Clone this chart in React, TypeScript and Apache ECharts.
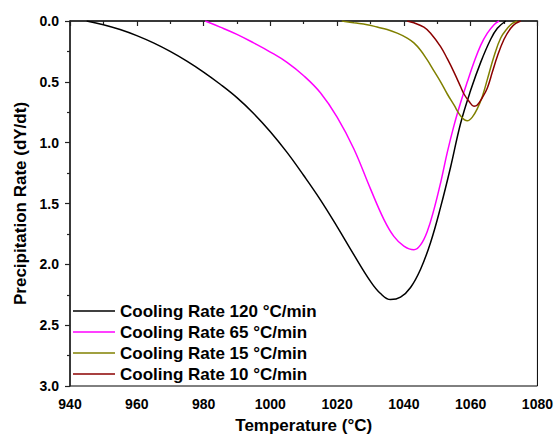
import React, { useEffect, useRef } from "react";
import * as echarts from "echarts";

const seriesNames = [
  "Cooling Rate 120 °C/min",
  "Cooling Rate 65 °C/min",
  "Cooling Rate 15 °C/min",
  "Cooling Rate 10 °C/min",
];
const seriesColors = ["#000000", "#ff00ff", "#808000", "#8b0000"];

const temp120 = [945, 950, 955, 960, 965, 970, 975, 980, 985, 990, 995, 1000, 1005, 1010, 1015, 1020, 1025, 1030, 1033, 1036, 1039, 1042, 1045, 1048, 1051, 1054, 1057, 1060, 1063, 1066, 1068, 1070.5];
const rate120 = [0, 0.03, 0.07, 0.12, 0.18, 0.25, 0.33, 0.42, 0.52, 0.63, 0.76, 0.91, 1.08, 1.27, 1.47, 1.69, 1.92, 2.14, 2.24, 2.29, 2.27, 2.19, 2.04, 1.82, 1.53, 1.2, 0.84, 0.57, 0.34, 0.15, 0.06, 0];

const temp65 = [980.5, 985, 990, 995, 1000, 1005, 1010, 1015, 1020, 1025, 1030, 1034, 1037, 1040, 1043, 1045, 1047, 1049, 1051, 1053, 1055, 1057, 1059, 1061, 1063, 1065, 1067, 1068.5];
const rate65 = [0, 0.05, 0.11, 0.18, 0.255, 0.34, 0.45, 0.59, 0.79, 1.05, 1.38, 1.63, 1.77, 1.85, 1.88, 1.84, 1.73, 1.55, 1.33, 1.08, 0.86, 0.67, 0.5, 0.34, 0.2, 0.1, 0.03, 0];

const temp15 = [1021.4, 1025, 1029, 1032, 1035, 1038, 1041, 1043, 1045, 1047, 1049, 1051, 1053, 1055, 1057, 1059, 1060.5, 1062, 1063.5, 1065, 1067, 1069, 1071, 1072.5, 1074];
const rate15 = [0, 0.015, 0.03, 0.05, 0.07, 0.1, 0.14, 0.18, 0.24, 0.32, 0.41, 0.5, 0.6, 0.69, 0.78, 0.82, 0.79, 0.72, 0.62, 0.48, 0.29, 0.14, 0.06, 0.02, 0];

const temp10 = [1041, 1043, 1046, 1048, 1051, 1053, 1055, 1057, 1058, 1059.5, 1061, 1062, 1063.5, 1065, 1066.5, 1068, 1070, 1072, 1073.5, 1075];
const rate10 = [0, 0.015, 0.05, 0.1, 0.21, 0.31, 0.42, 0.54, 0.6, 0.66, 0.7, 0.69, 0.63, 0.55, 0.42, 0.29, 0.15, 0.06, 0.02, 0];

const allTemps = [temp120, temp65, temp15, temp10];
const allRates = [rate120, rate65, rate15, rate10];

const FONT = "'Liberation Sans', Arial, sans-serif";

export default function App() {
  const ref = useRef<HTMLDivElement>(null);
  useEffect(() => {
    if (!ref.current) return;
    const chart = echarts.init(ref.current, null, { renderer: "svg" });
    chart.setOption({
      animation: false,
      backgroundColor: "#ffffff",
      grid: {
        left: 70,
        right: 17,
        top: 21,
        bottom: 50,
        show: true,
        borderColor: "#000",
        borderWidth: 1,
        backgroundColor: "transparent",
      },
      legend: {
        orient: "vertical",
        left: 73,
        top: 302,
        padding: 0,
        itemGap: 3,
        itemWidth: 42,
        itemHeight: 1.5,
        icon: "rect",
        textStyle: {
          fontFamily: FONT,
          fontWeight: "bold",
          fontSize: 17,
          color: "#000",
          lineHeight: 18,
        },
        data: seriesNames,
      },
      xAxis: {
        type: "value",
        min: 940,
        max: 1080,
        interval: 20,
        name: "Temperature (°C)",
        nameLocation: "middle",
        nameGap: 31,
        nameTextStyle: { fontFamily: FONT, fontWeight: "bold", fontSize: 17, color: "#000" },
        axisLine: { show: true, lineStyle: { color: "#222", width: 1.5 } },
        axisTick: { show: true, inside: false, length: 5, lineStyle: { color: "#222", width: 1.2 } },
        minorTick: { show: true, splitNumber: 2, length: 3, lineStyle: { color: "#222", width: 1.2 } },
        axisLabel: {
          fontFamily: FONT,
          fontWeight: "bold",
          fontSize: 14,
          color: "#000",
          margin: 11,
          formatter: (v: number) => String(v),
        },
        splitLine: { show: false },
      },
      yAxis: {
        type: "value",
        inverse: true,
        min: 0,
        max: 3,
        interval: 0.5,
        name: "Precipitation Rate (dY/dt)",
        nameLocation: "middle",
        nameGap: 36,
        nameTextStyle: { fontFamily: FONT, fontWeight: "bold", fontSize: 17, color: "#000" },
        axisLine: { show: true, lineStyle: { color: "#222", width: 1.5 } },
        axisTick: { show: true, inside: false, length: 5, lineStyle: { color: "#222", width: 1.2 } },
        minorTick: { show: true, splitNumber: 2, length: 3, lineStyle: { color: "#222", width: 1.2 } },
        axisLabel: {
          fontFamily: FONT,
          fontWeight: "bold",
          fontSize: 14,
          color: "#000",
          margin: 11,
          formatter: (v: number) => v.toFixed(1),
        },
        splitLine: { show: false },
      },
      series: seriesNames.map((name, i) => ({
        name,
        type: "line",
        symbol: "none",
        smooth: 0.4,
        lineStyle: { color: seriesColors[i], width: 1.5 },
        itemStyle: { color: seriesColors[i] },
        data: allTemps[i].map((t, j) => [t, allRates[i][j]]),
      })),
    });
    return () => chart.dispose();
  }, []);
  return (
    <div
      ref={ref}
      style={{ position: "fixed", left: 0, top: 0, width: 556, height: 439 }}
    />
  );
}
